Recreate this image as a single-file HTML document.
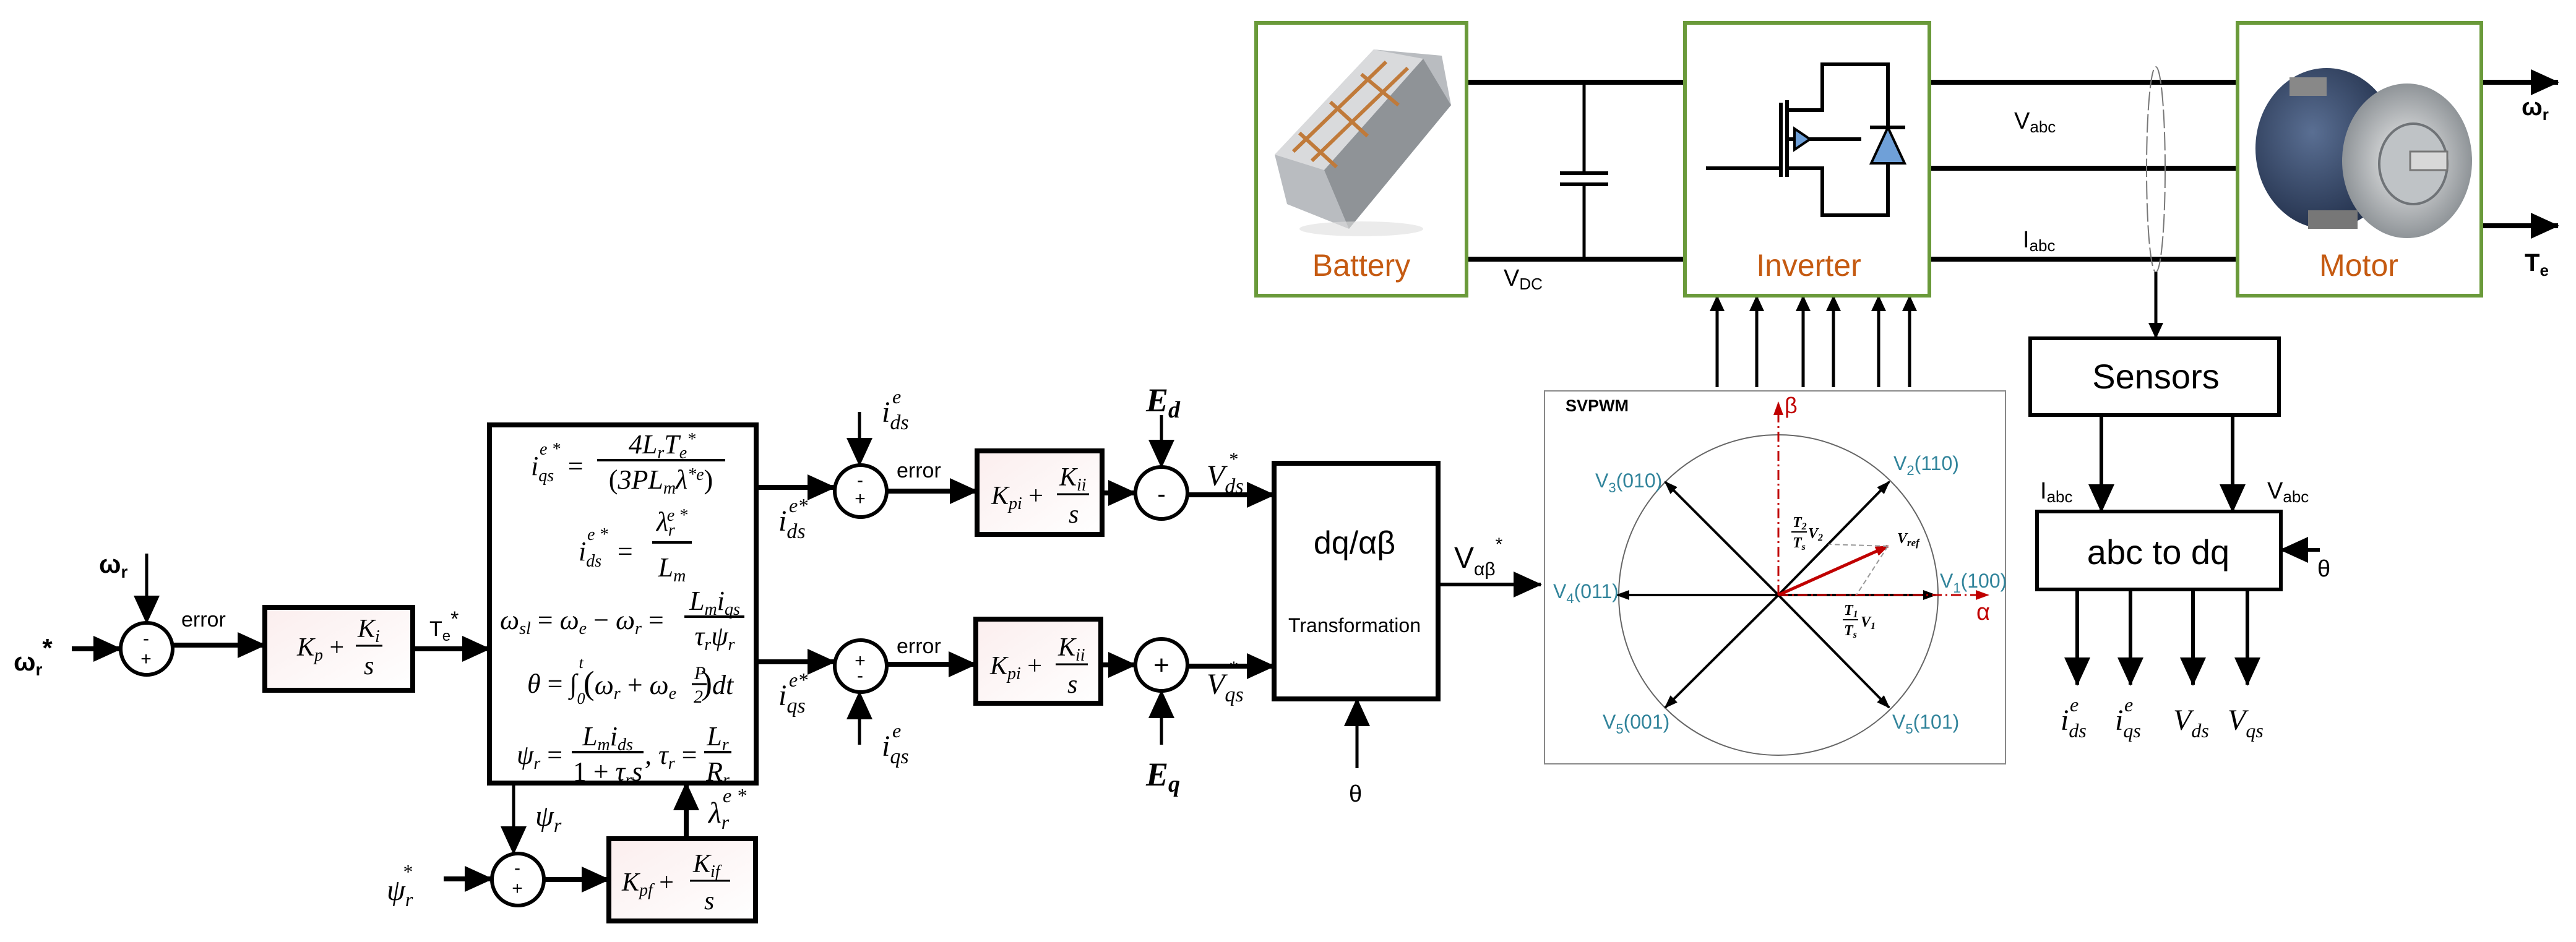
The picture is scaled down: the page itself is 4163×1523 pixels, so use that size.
<!DOCTYPE html>
<html><head><meta charset="utf-8"><style>
html,body{margin:0;padding:0;background:#fff}
svg{display:block}
svg text{font-family:"Liberation Sans",sans-serif}
svg .m text, svg text.m{font-family:"Liberation Serif",serif;font-style:italic}
</style></head><body>
<svg width="4163" height="1523" viewBox="0 0 4163 1523" xmlns="http://www.w3.org/2000/svg">
<defs>
<marker id="a" markerUnits="userSpaceOnUse" markerWidth="46" markerHeight="42" refX="44" refY="21" orient="auto"><path d="M0,0 L46,21 L0,42 z" fill="#000"/></marker>
<marker id="s" markerUnits="userSpaceOnUse" markerWidth="26" markerHeight="24" refX="25" refY="12" orient="auto"><path d="M0,0 L26,12 L0,24 z" fill="#000"/></marker>
<marker id="t" markerUnits="userSpaceOnUse" markerWidth="22" markerHeight="16" refX="20" refY="8" orient="auto"><path d="M0,0 L22,8 L0,16 z" fill="#000"/></marker>
<marker id="r" markerUnits="userSpaceOnUse" markerWidth="22" markerHeight="16" refX="20" refY="8" orient="auto"><path d="M0,0 L22,8 L0,16 z" fill="#c00000"/></marker>
<linearGradient id="pk" x1="0" y1="0" x2="1" y2="1"><stop offset="0" stop-color="#fbeeee"/><stop offset="1" stop-color="#fff"/></linearGradient>
<radialGradient id="mot" cx="0.4" cy="0.4" r="0.7"><stop offset="0" stop-color="#5a6f93"/><stop offset="1" stop-color="#1d2a44"/></radialGradient>
<radialGradient id="face" cx="0.5" cy="0.5" r="0.5"><stop offset="0" stop-color="#f2f2f2"/><stop offset="1" stop-color="#8f9498"/></radialGradient>
</defs>

<g stroke="#000" stroke-width="8" fill="none">
<line x1="116" y1="1049" x2="195" y2="1049" marker-end="url(#a)"/>
<line x1="237" y1="895" x2="237" y2="1007" stroke-width="5" marker-end="url(#a)"/>
<circle cx="237" cy="1049" r="42" stroke-width="6" fill="#fff"/>
<line x1="279" y1="1043" x2="428" y2="1043" marker-end="url(#a)"/>
<rect x="428" y="982" width="239" height="134" fill="url(#pk)"/>
<line x1="667" y1="1049" x2="791" y2="1049" marker-end="url(#a)"/>
<rect x="791" y="687" width="431" height="579" fill="#fff"/>
<line x1="1222" y1="788" x2="1349" y2="788" marker-end="url(#a)"/>
<line x1="1389" y1="666" x2="1389" y2="752" stroke-width="5" marker-end="url(#a)"/>
<circle cx="1391" cy="794" r="42" stroke-width="6" fill="#fff"/>
<line x1="1433" y1="794" x2="1579" y2="794" marker-end="url(#a)"/>
<rect x="1579" y="729" width="202" height="135" fill="url(#pk)"/>
<line x1="1781" y1="797" x2="1835" y2="797" marker-end="url(#a)"/>
<line x1="1877" y1="671" x2="1877" y2="755" stroke-width="5" marker-end="url(#a)"/>
<circle cx="1877" cy="797" r="42" stroke-width="6" fill="#fff"/>
<line x1="1919" y1="800" x2="2059" y2="800" marker-end="url(#a)"/>
<line x1="1222" y1="1070" x2="1349" y2="1070" marker-end="url(#a)"/>
<line x1="1389" y1="1204" x2="1389" y2="1119" stroke-width="5" marker-end="url(#a)"/>
<circle cx="1391" cy="1077" r="42" stroke-width="6" fill="#fff"/>
<line x1="1433" y1="1074" x2="1577" y2="1074" marker-end="url(#a)"/>
<rect x="1577" y="1001" width="202" height="136" fill="url(#pk)"/>
<line x1="1779" y1="1075" x2="1835" y2="1075" marker-end="url(#a)"/>
<line x1="1877" y1="1204" x2="1877" y2="1117" stroke-width="5" marker-end="url(#a)"/>
<circle cx="1877" cy="1075" r="42" stroke-width="6" fill="#fff"/>
<line x1="1919" y1="1077" x2="2059" y2="1077" marker-end="url(#a)"/>
<rect x="2059" y="749" width="265" height="381" fill="#fff"/>
<line x1="2193" y1="1242" x2="2193" y2="1130" stroke-width="5" marker-end="url(#a)"/>
<line x1="2324" y1="945" x2="2490" y2="945" stroke-width="6" marker-end="url(#a)"/>
<line x1="830" y1="1266" x2="830" y2="1380" stroke-width="5" marker-end="url(#a)"/>
<line x1="717" y1="1421" x2="795" y2="1421" marker-end="url(#a)"/>
<circle cx="837" cy="1422" r="42" stroke-width="6" fill="#fff"/>
<line x1="879" y1="1422" x2="984" y2="1422" marker-end="url(#a)"/>
<rect x="984" y="1356" width="237" height="133" fill="url(#pk)"/>
<line x1="1109" y1="1356" x2="1109" y2="1266" marker-end="url(#a)"/>
</g>

<g stroke="#000" stroke-width="8" fill="none">
<line x1="2370" y1="133" x2="2723" y2="133"/>
<line x1="2370" y1="419" x2="2723" y2="419"/>
<line x1="2560" y1="133" x2="2560" y2="280" stroke-width="5"/>
<line x1="2560" y1="298" x2="2560" y2="419" stroke-width="5"/>
<line x1="2521" y1="280" x2="2599" y2="280" stroke-width="6"/>
<line x1="2521" y1="298" x2="2599" y2="298" stroke-width="6"/>
<line x1="3118" y1="133" x2="3616" y2="133"/>
<line x1="3118" y1="272" x2="3616" y2="272"/>
<line x1="3118" y1="419" x2="3616" y2="419"/>
<line x1="4010" y1="133" x2="4134" y2="133" marker-end="url(#a)"/>
<line x1="4010" y1="365" x2="4134" y2="365" marker-end="url(#a)"/>
</g>
<ellipse cx="3484" cy="274" rx="15" ry="166" fill="none" stroke="#777" stroke-width="2" stroke-dasharray="30,6"/>
<g stroke="#000" stroke-width="5" fill="none">
<line x1="3484" y1="440" x2="3484" y2="547" marker-end="url(#s)"/>
<line x1="3396" y1="671" x2="3396" y2="827" stroke-width="6" marker-end="url(#a)"/>
<line x1="3608" y1="671" x2="3608" y2="827" stroke-width="6" marker-end="url(#a)"/>
<line x1="3749" y1="889" x2="3686" y2="889" stroke-width="6" marker-end="url(#a)"/>
<line x1="3357" y1="953" x2="3357" y2="1107" stroke-width="6" marker-end="url(#a)"/>
<line x1="3443" y1="953" x2="3443" y2="1107" stroke-width="6" marker-end="url(#a)"/>
<line x1="3544" y1="953" x2="3544" y2="1107" stroke-width="6" marker-end="url(#a)"/>
<line x1="3632" y1="953" x2="3632" y2="1107" stroke-width="6" marker-end="url(#a)"/>
<line x1="2775" y1="626" x2="2775" y2="478" marker-end="url(#s)"/>
<line x1="2839" y1="626" x2="2839" y2="478" marker-end="url(#s)"/>
<line x1="2914" y1="626" x2="2914" y2="478" marker-end="url(#s)"/>
<line x1="2963" y1="626" x2="2963" y2="478" marker-end="url(#s)"/>
<line x1="3036" y1="626" x2="3036" y2="478" marker-end="url(#s)"/>
<line x1="3086" y1="626" x2="3086" y2="478" marker-end="url(#s)"/>
</g>
<rect x="3281" y="547" width="402" height="124" fill="#fff" stroke="#000" stroke-width="6"/>
<rect x="3292" y="827" width="394" height="126" fill="#fff" stroke="#000" stroke-width="6"/>

<rect x="2030" y="37" width="340" height="441" fill="#fff" stroke="#6a9a3a" stroke-width="6"/>
<rect x="2723" y="37" width="395" height="441" fill="#fff" stroke="#6a9a3a" stroke-width="6"/>
<rect x="3616" y="37" width="394" height="441" fill="#fff" stroke="#6a9a3a" stroke-width="6"/>

<g>
<polygon points="2060,250 2220,80 2330,90 2345,170 2180,370 2080,330" fill="#b9bcc0"/>
<polygon points="2060,250 2220,80 2300,95 2140,275" fill="#d9dadc"/>
<polygon points="2140,275 2300,95 2345,170 2180,370" fill="#8f9397"/>
<g stroke="#c07a3a" stroke-width="6" fill="none">
<line x1="2090" y1="245" x2="2240" y2="100"/><line x1="2120" y1="260" x2="2275" y2="110"/>
<line x1="2100" y1="215" x2="2160" y2="270"/><line x1="2150" y1="165" x2="2210" y2="220"/><line x1="2200" y1="120" x2="2260" y2="170"/>
</g>
<ellipse cx="2200" cy="370" rx="100" ry="12" fill="#ddd" opacity="0.6"/>
</g>
<g>
<ellipse cx="3760" cy="240" rx="115" ry="130" fill="url(#mot)"/>
<rect x="3700" y="125" width="60" height="30" fill="#888"/>
<ellipse cx="3890" cy="260" rx="105" ry="125" fill="url(#face)"/>
<ellipse cx="3900" cy="265" rx="55" ry="65" fill="#bfc3c6" stroke="#6f7377" stroke-width="4"/>
<rect x="3895" y="245" width="60" height="30" fill="#d8d8d8" stroke="#777" stroke-width="3"/>
<rect x="3730" y="340" width="80" height="30" fill="#777"/>
</g>

<g stroke="#000" stroke-width="6" fill="none">
<polyline points="2888,178 2945,178 2945,104 3051,104 3051,348 2945,348 2945,272 2888,272"/>
<line x1="2888" y1="162" x2="2888" y2="286"/>
<line x1="2878" y1="166" x2="2878" y2="286"/>
<line x1="2757" y1="272" x2="2878" y2="272"/>
<line x1="2888" y1="225" x2="3008" y2="225"/>
<line x1="3022" y1="206" x2="3079" y2="206"/>
</g>
<polygon points="2900,208 2900,242 2925,225" fill="#6fa0d8" stroke="#000" stroke-width="4"/>
<polygon points="3051,206 3024,264 3078,264" fill="#6fa0d8" stroke="#000" stroke-width="4"/>

<rect x="2496" y="632" width="745" height="603" fill="#fff" stroke="#888" stroke-width="2"/>
<ellipse cx="2874" cy="962" rx="258" ry="259" fill="none" stroke="#666" stroke-width="2"/>
<g stroke="#000" stroke-width="4">
<line x1="2874" y1="962" x2="3053" y2="779" marker-end="url(#t)"/>
<line x1="2874" y1="962" x2="2691" y2="779" marker-end="url(#t)"/>
<line x1="2874" y1="962" x2="2613" y2="962" marker-end="url(#t)"/>
<line x1="2874" y1="962" x2="3128" y2="962" marker-end="url(#t)"/>
<line x1="2874" y1="962" x2="2691" y2="1144" marker-end="url(#t)"/>
<line x1="2874" y1="962" x2="3053" y2="1144" marker-end="url(#t)"/>
</g>
<g stroke="#c00000" stroke-width="3" fill="none" stroke-dasharray="16,6,3,6">
<line x1="2874" y1="962" x2="2874" y2="651" marker-end="url(#r)"/>
<line x1="2874" y1="962" x2="3213" y2="962" marker-end="url(#r)"/>
</g>
<line x1="2874" y1="962" x2="3051" y2="883" stroke="#c00000" stroke-width="5" marker-end="url(#r)"/>
<g stroke="#999" stroke-width="2" stroke-dasharray="8,5">
<line x1="3051" y1="883" x2="2955" y2="880"/>
<line x1="3051" y1="883" x2="3000" y2="962"/>
</g>
<text x="2530" y="665" font-size="27" font-weight="bold">SVPWM</text>
<text x="2884" y="668" font-size="36" fill="#c00000">β</text>
<text x="3194" y="1002" font-size="38" fill="#c00000">α</text>
<g font-size="32" fill="#31849B">
<text x="3060" y="760">V<tspan font-size="22" dy="8">2</tspan><tspan dy="-8">(110)</tspan></text>
<text x="2578" y="788">V<tspan font-size="22" dy="8">3</tspan><tspan dy="-8">(010)</tspan></text>
<text x="2510" y="967">V<tspan font-size="22" dy="8">4</tspan><tspan dy="-8">(011)</tspan></text>
<text x="3135" y="950">V<tspan font-size="22" dy="8">1</tspan><tspan dy="-8">(100)</tspan></text>
<text x="2590" y="1178">V<tspan font-size="22" dy="8">5</tspan><tspan dy="-8">(001)</tspan></text>
<text x="3058" y="1178">V<tspan font-size="22" dy="8">5</tspan><tspan dy="-8">(101)</tspan></text>
</g>
<g class="m" font-size="24" font-weight="bold">
<text x="3066" y="878">V<tspan font-size="17" dy="5">ref</tspan></text>
<text x="2897" y="852">T<tspan font-size="16" dy="4">2</tspan></text><line x1="2895" y1="860" x2="2920" y2="860" stroke="#000" stroke-width="2"/>
<text x="2897" y="885">T<tspan font-size="16" dy="4">s</tspan></text><text x="2922" y="870">V<tspan font-size="16" dy="4">2</tspan></text>
<text x="2980" y="994">T<tspan font-size="16" dy="4">1</tspan></text><line x1="2978" y1="1002" x2="3003" y2="1002" stroke="#000" stroke-width="2"/>
<text x="2980" y="1027">T<tspan font-size="16" dy="4">s</tspan></text><text x="3007" y="1013">V<tspan font-size="16" dy="4">1</tspan></text>
</g>

<g font-size="50" fill="#C55A11" text-anchor="middle">
<text x="2200" y="446">Battery</text><text x="2923" y="446">Inverter</text><text x="3812" y="446">Motor</text>
</g>
<g font-size="38">
<text x="2430" y="462">V<tspan font-size="26" dy="6">DC</tspan></text>
<text x="3255" y="208">V<tspan font-size="26" dy="6">abc</tspan></text>
<text x="3269" y="400">I<tspan font-size="26" dy="6">abc</tspan></text>
<text x="3297" y="806">I<tspan font-size="26" dy="6">abc</tspan></text>
<text x="3664" y="806">V<tspan font-size="26" dy="6">abc</tspan></text>
<text x="3745" y="932">θ</text>
<text x="2180" y="1296">θ</text>
</g>
<g font-size="40" font-weight="bold">
<text x="4075" y="186">ω<tspan font-size="26" dy="8">r</tspan></text>
<text x="4080" y="438">T<tspan font-size="26" dy="8">e</tspan></text>
</g>
<text x="3484" y="628" font-size="56" text-anchor="middle">Sensors</text>
<text x="3488" y="912" font-size="56" text-anchor="middle">abc to dq</text>
<text x="2189" y="895" font-size="52" text-anchor="middle">dq/αβ</text>
<text x="2189" y="1022" font-size="32" text-anchor="middle">Transformation</text>
<text x="2350" y="918" font-size="48">V<tspan font-size="30" dy="12">αβ</tspan><tspan font-size="30" dy="-40">*</tspan></text>

<g class="m" font-size="48">
<text x="3330" y="1180">i<tspan font-size="32" dy="12">ds</tspan></text><text x="3345" y="1150" font-size="32">e</text>
<text x="3418" y="1180">i<tspan font-size="32" dy="12">qs</tspan></text><text x="3433" y="1150" font-size="32">e</text>
<text x="3512" y="1180">V<tspan font-size="32" dy="12">ds</tspan></text>
<text x="3600" y="1180">V<tspan font-size="32" dy="12">qs</tspan></text>
</g>

<g font-size="42" font-weight="bold">
<text x="22" y="1084">ω<tspan font-size="28" dy="8">r</tspan><tspan dy="-30">*</tspan></text>
<text x="160" y="926">ω<tspan font-size="28" dy="8">r</tspan></text>
</g>
<g font-size="34">
<text x="293" y="1013">error</text>
<text x="1449" y="772">error</text>
<text x="1449" y="1056">error</text>
<text x="694" y="1028">T<tspan font-size="24" dy="8">e</tspan><tspan dy="-24">*</tspan></text>
</g>
<g font-size="30" text-anchor="middle">
<text x="236" y="1042">-</text><text x="236" y="1075">+</text>
<text x="1390" y="786">-</text><text x="1390" y="816">+</text>
<text x="1390" y="1078">+</text><text x="1390" y="1102">-</text>
<text x="836" y="1413">-</text><text x="836" y="1446">+</text>
<text x="1877" y="812" font-size="40">-</text>
<text x="1877" y="1090" font-size="44">+</text>
</g>

<g class="m" font-size="48">
<text x="1425" y="682">i<tspan font-size="34" dy="12">ds</tspan></text><text x="1442" y="652" font-size="32">e</text>
<text x="1425" y="1222">i<tspan font-size="34" dy="12">qs</tspan></text><text x="1442" y="1192" font-size="32">e</text>
<text x="1258" y="858">i<tspan font-size="34" dy="12">ds</tspan></text><text x="1275" y="828" font-size="32">e*</text>
<text x="1258" y="1140">i<tspan font-size="34" dy="12">qs</tspan></text><text x="1275" y="1110" font-size="32">e*</text>
<text x="1950" y="785">V<tspan font-size="34" dy="12">ds</tspan></text><text x="1985" y="752" font-size="30">*</text>
<text x="1950" y="1122">V<tspan font-size="34" dy="12">qs</tspan></text><text x="1985" y="1089" font-size="30">*</text>
<text x="1852" y="665" font-weight="bold" font-size="54">E<tspan font-size="38" dy="10">d</tspan></text>
<text x="1852" y="1270" font-weight="bold" font-size="54">E<tspan font-size="38" dy="10">q</tspan></text>
<text x="865" y="1335">ψ<tspan font-size="32" dy="10">r</tspan></text>
<text x="1145" y="1330">λ<tspan font-size="32" dy="10">r</tspan></text><text x="1168" y="1297" font-size="32">e *</text>
<text x="625" y="1455">ψ<tspan font-size="32" dy="10">r</tspan></text><text x="650" y="1420" font-size="32">*</text>
</g>
<g class="m" font-size="42">
<text x="480" y="1060">K<tspan font-size="28" dy="8">p</tspan><tspan dy="-8" font-style="normal"> +</tspan></text>
<text x="578" y="1030">K<tspan font-size="28" dy="8">i</tspan></text><line x1="575" y1="1044" x2="618" y2="1044" stroke="#000" stroke-width="3"/><text x="588" y="1090">s</text>
<text x="1602" y="815">K<tspan font-size="28" dy="8">pi</tspan><tspan dy="-8" font-style="normal"> +</tspan></text>
<text x="1712" y="785">K<tspan font-size="28" dy="8">ii</tspan></text><line x1="1708" y1="799" x2="1760" y2="799" stroke="#000" stroke-width="3"/><text x="1727" y="845">s</text>
<text x="1600" y="1090">K<tspan font-size="28" dy="8">pi</tspan><tspan dy="-8" font-style="normal"> +</tspan></text>
<text x="1710" y="1060">K<tspan font-size="28" dy="8">ii</tspan></text><line x1="1706" y1="1074" x2="1758" y2="1074" stroke="#000" stroke-width="3"/><text x="1725" y="1120">s</text>
<text x="1005" y="1440">K<tspan font-size="28" dy="8">pf</tspan><tspan dy="-8" font-style="normal"> +</tspan></text>
<text x="1120" y="1410">K<tspan font-size="28" dy="8">if</tspan></text><line x1="1115" y1="1424" x2="1180" y2="1424" stroke="#000" stroke-width="3"/><text x="1138" y="1470">s</text>
</g>

<g class="m" font-size="44">
<text x="858" y="768">i<tspan font-size="28" dy="10">qs</tspan></text><text x="872" y="735" font-size="28">e *</text><text x="915" y="768" font-style="normal">=</text>
<text x="1070" y="733" text-anchor="middle">4L<tspan font-size="28" dy="8">r</tspan><tspan dy="-8">T</tspan><tspan font-size="28" dy="8">e</tspan><tspan font-size="28" dy="-22">*</tspan></text>
<line x1="965" y1="744" x2="1172" y2="744" stroke="#000" stroke-width="4"/>
<text x="1068" y="790" text-anchor="middle"><tspan font-style="normal">(</tspan>3PL<tspan font-size="28" dy="8">m</tspan><tspan dy="-8">λ</tspan><tspan font-size="28" dy="-14">*e</tspan><tspan font-style="normal" dy="14">)</tspan></text>

<text x="935" y="906">i<tspan font-size="28" dy="10">ds</tspan></text><text x="949" y="873" font-size="28">e *</text><text x="995" y="906" font-style="normal">=</text>
<text x="1086" y="858" text-anchor="middle">λ<tspan font-size="28" dy="8">r</tspan><tspan font-size="28" dx="-12" dy="-24">e *</tspan></text>
<line x1="1054" y1="877" x2="1118" y2="877" stroke="#000" stroke-width="4"/>
<text x="1086" y="932" text-anchor="middle">L<tspan font-size="28" dy="8">m</tspan></text>

<text x="808" y="1017">ω<tspan font-size="28" dy="8">sl</tspan><tspan font-style="normal" dy="-8"> = </tspan>ω<tspan font-size="28" dy="8">e</tspan><tspan font-style="normal" dy="-8"> − </tspan>ω<tspan font-size="28" dy="8">r</tspan><tspan font-style="normal" dy="-8"> =</tspan></text>
<text x="1155" y="986" text-anchor="middle">L<tspan font-size="28" dy="8">m</tspan><tspan dy="-8">i</tspan><tspan font-size="28" dy="8">qs</tspan></text>
<line x1="1106" y1="997" x2="1203" y2="997" stroke="#000" stroke-width="4"/>
<text x="1155" y="1043" text-anchor="middle">τ<tspan font-size="28" dy="8">r</tspan><tspan dy="-8">ψ</tspan><tspan font-size="28" dy="8">r</tspan></text>

<text x="852" y="1120">θ<tspan font-style="normal"> = ∫</tspan><tspan font-size="26" dy="18">0</tspan><tspan font-size="26" dx="-10" dy="-58">t</tspan><tspan font-style="normal" font-size="54" dy="42">(</tspan>ω<tspan font-size="28" dy="8">r</tspan><tspan font-style="normal" dy="-8"> + </tspan>ω<tspan font-size="28" dy="8">e</tspan><tspan dy="-8" dx="40" font-style="normal" font-size="54">)</tspan>dt</text>
<text x="1122" y="1098" font-size="30">P</text><line x1="1118" y1="1106" x2="1142" y2="1106" stroke="#000" stroke-width="3"/><text x="1121" y="1136" font-size="30" font-style="normal">2</text>

<text x="835" y="1235">ψ<tspan font-size="28" dy="8">r</tspan><tspan font-style="normal" dy="-8"> =</tspan></text>
<text x="982" y="1205" text-anchor="middle">L<tspan font-size="28" dy="8">m</tspan><tspan dy="-8">i</tspan><tspan font-size="28" dy="8">ds</tspan></text>
<line x1="924" y1="1216" x2="1040" y2="1216" stroke="#000" stroke-width="4"/>
<text x="982" y="1262" text-anchor="middle"><tspan font-style="normal">1 + </tspan>τ<tspan font-size="28" dy="8">r</tspan><tspan dy="-8">s</tspan></text>
<text x="1042" y="1235">, τ<tspan font-size="28" dy="8">r</tspan><tspan font-style="normal" dy="-8"> =</tspan></text>
<text x="1160" y="1205" text-anchor="middle">L<tspan font-size="28" dy="8">r</tspan></text>
<line x1="1138" y1="1216" x2="1182" y2="1216" stroke="#000" stroke-width="4"/>
<text x="1160" y="1262" text-anchor="middle">R<tspan font-size="28" dy="8">r</tspan></text>
</g>
</svg>
</body></html>
